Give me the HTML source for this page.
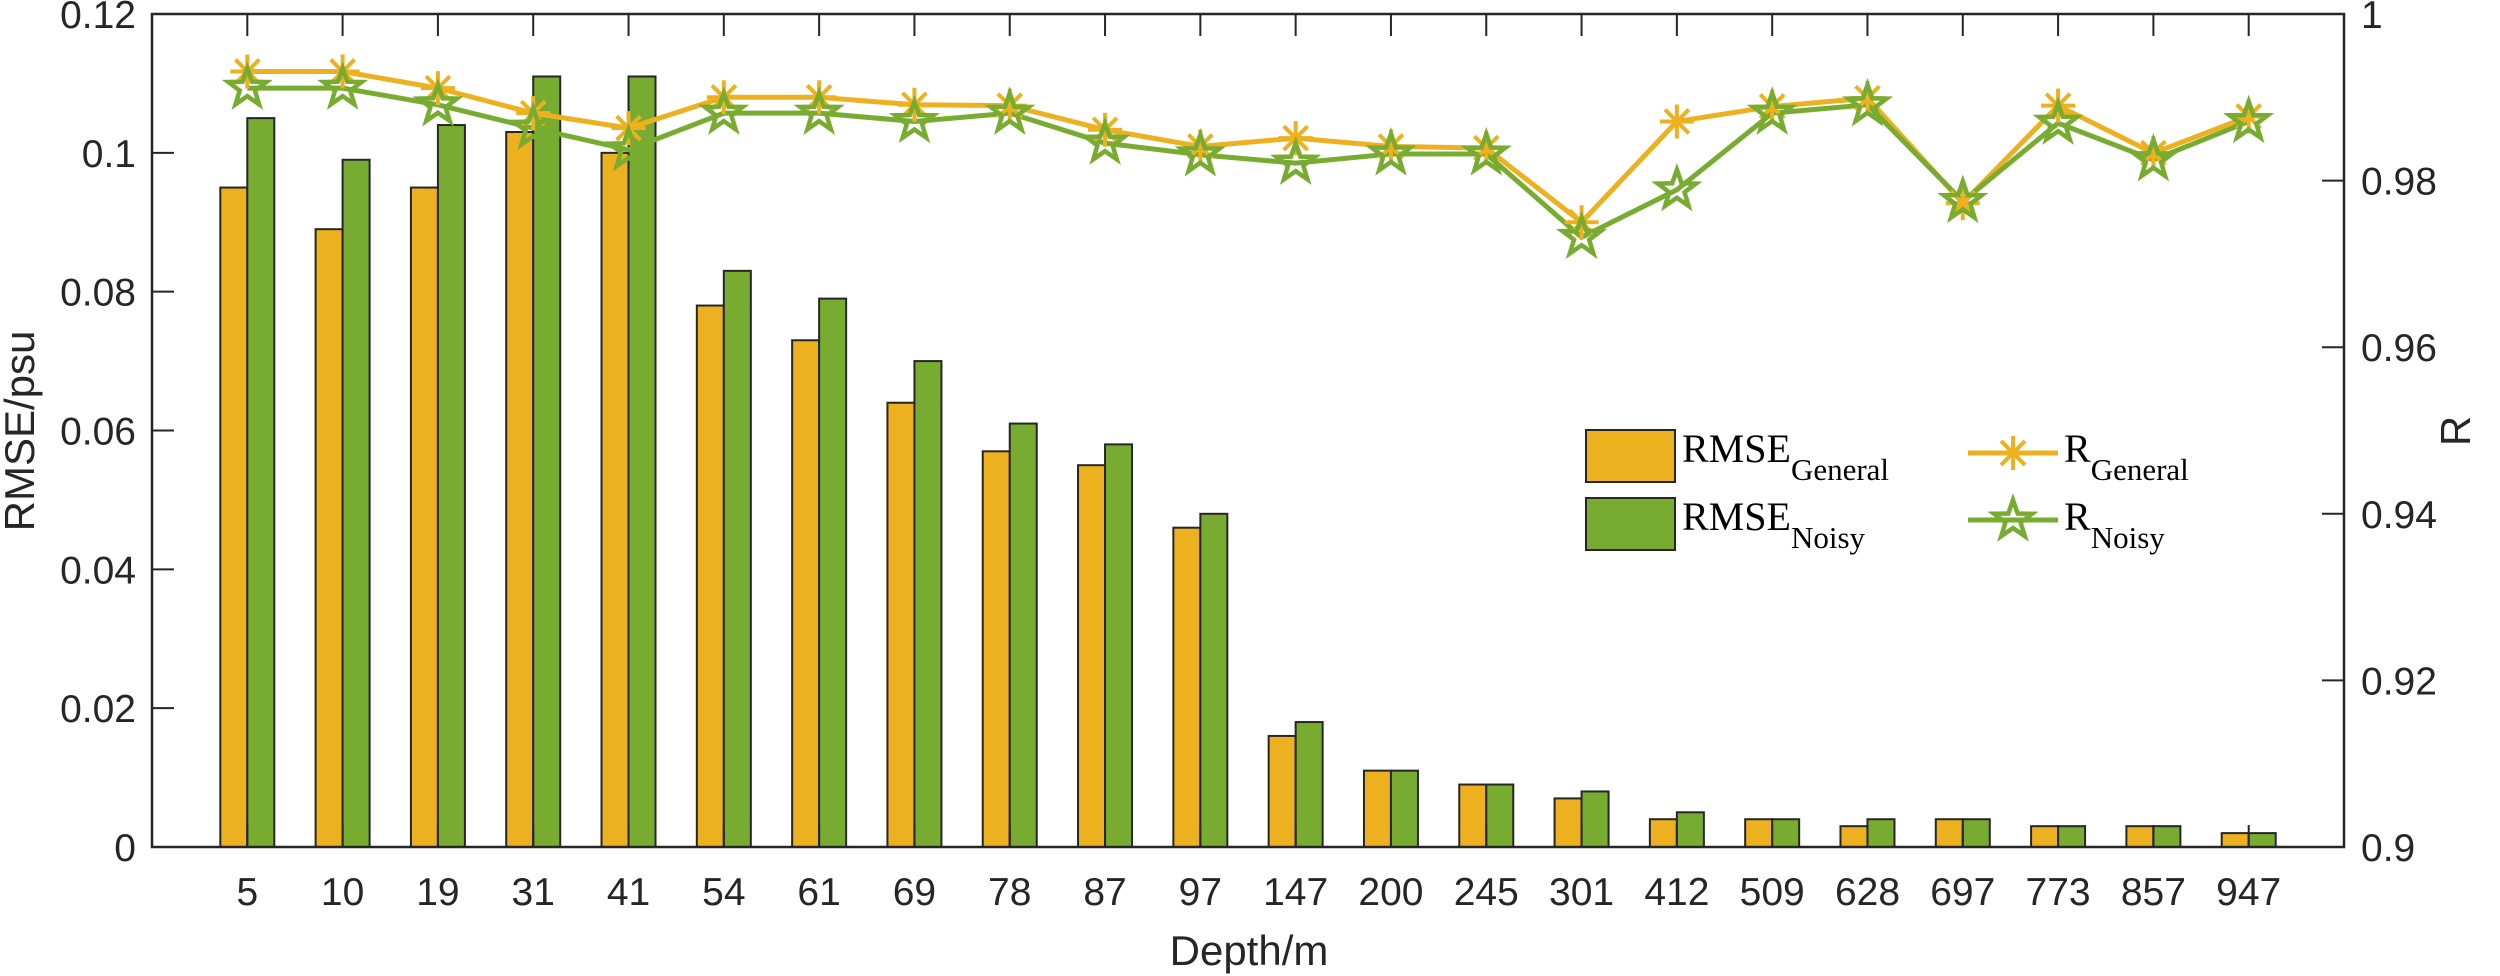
<!DOCTYPE html>
<html><head><meta charset="utf-8"><style>
html,body{margin:0;padding:0;background:#fff;}
svg{display:block;}
text{font-family:"Liberation Sans",Arial,sans-serif;fill:#262626;}
.leg{font-family:"Liberation Serif","Times New Roman",serif;fill:#000;}
</style></head><body>
<svg id="chart" xmlns="http://www.w3.org/2000/svg" width="2500" height="976" viewBox="0 0 2500 976">
<g id="bars"></g>
<g id="lines"></g>
<g id="axes"></g>
<g id="legend">
  <rect x="1586" y="430" width="89" height="52" fill="#EDB120" stroke="#262626" stroke-width="2"/>
  <text class="leg" x="1682" y="462" font-size="40">RMSE<tspan font-size="31" dy="18">General</tspan></text>
  <rect x="1586" y="498" width="89" height="52" fill="#77AC30" stroke="#262626" stroke-width="2"/>
  <text class="leg" x="1682" y="530" font-size="40">RMSE<tspan font-size="31" dy="18">Noisy</tspan></text>
  <g id="legR1"></g>
  <text class="leg" x="2064" y="462" font-size="40">R<tspan font-size="31" dy="18">General</tspan></text>
  <g id="legR2"></g>
  <text class="leg" x="2064" y="530" font-size="40">R<tspan font-size="31" dy="18">Noisy</tspan></text>
</g>
</svg>
<script>
const categories = ["5","10","19","31","41","54","61","69","78","87","97","147","200","245","301","412","509","628","697","773","857","947"];
const rmseGeneral = [0.095,0.089,0.095,0.103,0.100,0.078,0.073,0.064,0.057,0.055,0.046,0.016,0.011,0.009,0.007,0.004,0.004,0.003,0.004,0.003,0.003,0.002];
const rmseNoisy = [0.105,0.099,0.104,0.111,0.111,0.083,0.079,0.070,0.061,0.058,0.048,0.018,0.011,0.009,0.008,0.005,0.004,0.004,0.004,0.003,0.003,0.002];
const rGeneral = [0.9931,0.9931,0.9911,0.9881,0.9863,0.9900,0.9900,0.9891,0.9890,0.9861,0.9841,0.9851,0.9841,0.9839,0.9750,0.9871,0.9889,0.9899,0.9773,0.9890,0.9833,0.9877];
const rNoisy = [0.9911,0.9911,0.9891,0.9863,0.9837,0.9881,0.9881,0.9871,0.9881,0.9845,0.9831,0.9821,0.9832,0.9832,0.9732,0.9789,0.9881,0.9891,0.9775,0.9869,0.9825,0.9871];
const leftTicks = [0,0.02,0.04,0.06,0.08,0.1,0.12];
const leftTickLabels = ["0","0.02","0.04","0.06","0.08","0.1","0.12"];
const rightTicks = [0.9,0.92,0.94,0.96,0.98,1];
const rightTickLabels = ["0.9","0.92","0.94","0.96","0.98","1"];

const NS="http://www.w3.org/2000/svg";
const L=152,R=2344,T=14,B=847;
const xs=i=>L+(i+1)*(R-L)/(categories.length+1);
const yL=v=>B-(v/0.12)*(B-T);
const yR=v=>B-((v-0.9)/0.1)*(B-T);
const OR="#EDB120",GR="#77AC30",AX="#262626";
function mk(tag,attrs,parent){const e=document.createElementNS(NS,tag);for(const k in attrs)e.setAttribute(k,attrs[k]);parent.appendChild(e);return e;}
const bars=document.getElementById('bars'),lines=document.getElementById('lines'),axes=document.getElementById('axes');
const bw=27;
categories.forEach((c,i)=>{
  const x=xs(i);
  const b1=mk('rect',{x:x-bw,y:yL(rmseGeneral[i]),width:bw,height:B-yL(rmseGeneral[i]),fill:OR,stroke:AX,'stroke-width':2},bars);
  
  
  const b2=mk('rect',{x:x,y:yL(rmseNoisy[i]),width:bw,height:B-yL(rmseNoisy[i]),fill:GR,stroke:AX,'stroke-width':2},bars);
  
  
});
function asterisk(cx,cy,g){
  const s=17;
  mk('path',{d:`M${cx-s} ${cy}H${cx+s}M${cx} ${cy-s}V${cy+s}M${cx-s*0.7} ${cy-s*0.7}L${cx+s*0.7} ${cy+s*0.7}M${cx-s*0.7} ${cy+s*0.7}L${cx+s*0.7} ${cy-s*0.7}`,stroke:OR,'stroke-width':4,fill:'none'},g);
}
function star(cx,cy,g){
  const ro=20,ri=8;let d='';
  for(let k=0;k<10;k++){const r=k%2?ri:ro;const a=-Math.PI/2+k*Math.PI/5;d+=(k?'L':'M')+(cx+r*Math.cos(a)).toFixed(1)+' '+(cy+r*Math.sin(a)).toFixed(1);}
  mk('path',{d:d+'Z',stroke:GR,'stroke-width':4.5,fill:'none','stroke-linejoin':'miter'},g);
}
const pg=mk('polyline',{points:rGeneral.map((v,i)=>xs(i)+','+yR(v)).join(' '),fill:'none',stroke:OR,'stroke-width':5},lines);


const pn=mk('polyline',{points:rNoisy.map((v,i)=>xs(i)+','+yR(v)).join(' '),fill:'none',stroke:GR,'stroke-width':5},lines);


rGeneral.forEach((v,i)=>{const g=mk('g',{},lines);
  
  
  asterisk(xs(i),yR(v),g);});
rNoisy.forEach((v,i)=>{const g=mk('g',{},lines);
  
  
  star(xs(i),yR(v),g);});
// axes box
const box=mk('rect',{x:L,y:T,width:R-L,height:B-T,fill:'none',stroke:AX,'stroke-width':2.5},axes);


categories.forEach((c,i)=>{
  const x=xs(i);
  mk('line',{x1:x,y1:T,x2:x,y2:T+22,stroke:AX,'stroke-width':2},axes);
  mk('line',{x1:x,y1:B,x2:x,y2:B-22,stroke:AX,'stroke-width':2},axes);
  const t=mk('text',{x:x,y:905,'font-size':39,'text-anchor':'middle'},axes);
  
  
  t.textContent=c;
});
leftTicks.forEach((v,i)=>{
  const y=yL(v);
  mk('line',{x1:L,y1:y,x2:L+22,y2:y,stroke:AX,'stroke-width':2},axes);
  const t=mk('text',{x:136,y:y+14,'font-size':39,'text-anchor':'end'},axes);
  
  
  t.textContent=leftTickLabels[i];
});
rightTicks.forEach((v,i)=>{
  const y=yR(v);
  mk('line',{x1:R,y1:y,x2:R-22,y2:y,stroke:AX,'stroke-width':2},axes);
  const t=mk('text',{x:2361,y:y+14,'font-size':39,'text-anchor':'start'},axes);
  
  
  t.textContent=rightTickLabels[i];
});
const xl=mk('text',{x:1249,y:965,'font-size':42,'text-anchor':'middle'},axes);


xl.textContent='Depth/m';
const yl=mk('text',{x:0,y:0,'font-size':42,'text-anchor':'middle',transform:'translate(34,431) rotate(-90)'},axes);


yl.textContent='RMSE/psu';
const yr=mk('text',{x:0,y:0,'font-size':42,'text-anchor':'middle',transform:'translate(2470,431) rotate(-90)'},axes);


yr.textContent='R';
// legend markers
const l1=document.getElementById('legR1');
mk('line',{x1:1968,y1:453,x2:2058,y2:453,stroke:OR,'stroke-width':5},l1);asterisk(2013,453,l1);
const l2=document.getElementById('legR2');
mk('line',{x1:1968,y1:520,x2:2058,y2:520,stroke:GR,'stroke-width':5},l2);star(2013,520,l2);
</script>
</body></html>
